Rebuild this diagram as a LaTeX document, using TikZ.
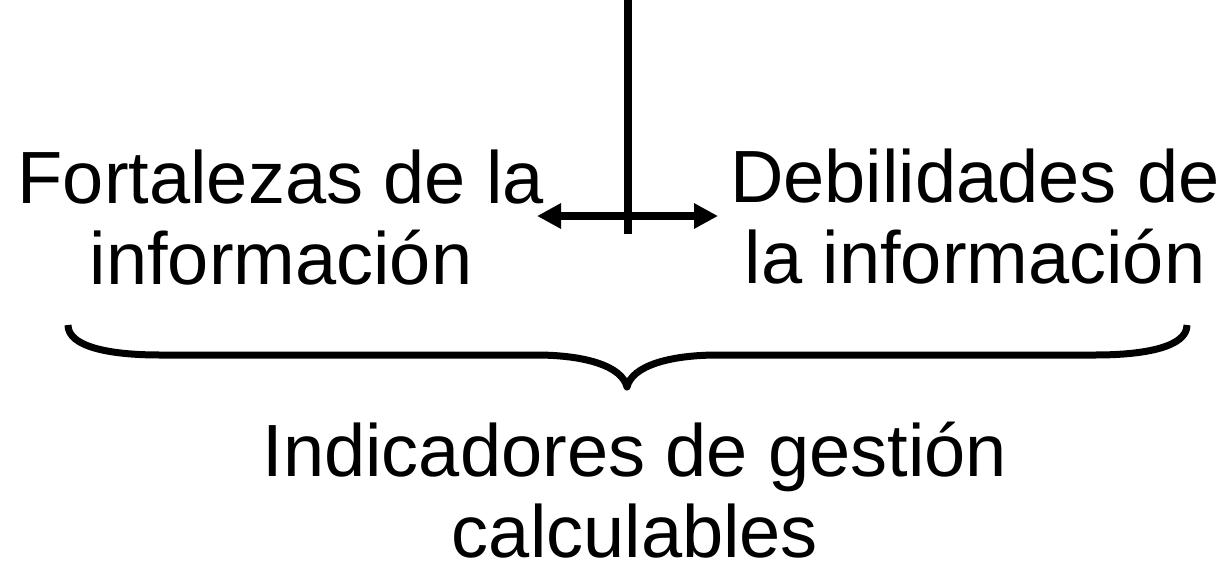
\documentclass[tikz,border=0pt]{standalone}
\usepackage{fontspec}
\setmainfont{Liberation Sans}
\usetikzlibrary{arrows.meta}
\begin{document}
\begin{tikzpicture}[x=1pt,y=-1pt,
  label/.style={font=\fontsize{74}{81}\selectfont, inner sep=0pt, align=center, anchor=base},
  bar/.style={line width=8pt},
  shaft/.style={line width=7.3pt, {Triangle[length=24pt,width=24pt]}-{Triangle[length=24pt,width=24pt]}},
  bracestyle/.style={line width=7pt, line cap=butt, line join=round}]
\useasboundingbox (0,0) rectangle (1227,560);
\node[label] (fort) at (281,284) {Fortalezas de la\\información};
\node[label] (deb) at (975,283) {Debilidades de\\la información};
\node[label] (ind) at (635,557) {Indicadores de gestión\\calculables};
\coordinate (top) at (628,0);
\coordinate (bot) at (628,234);
\coordinate (la) at (537,216);
\coordinate (ra) at (718,216);
\draw[bar] (top) -- (bot);
\draw[shaft] (la) -- (ra);
\coordinate (bl) at (68,325);
\coordinate (br) at (1187,325);
\coordinate (tip) at (627,387);
\draw[bracestyle] (bl) .. controls (68,347) and (110,355) .. (160,355)
  -- (536,355) .. controls (585,355) and (622,366) .. (tip)
  .. controls (632,366) and (669,355) .. (718,355)
  -- (1095,355) .. controls (1145,355) and (1187,347) .. (br);
\end{tikzpicture}
\end{document}
